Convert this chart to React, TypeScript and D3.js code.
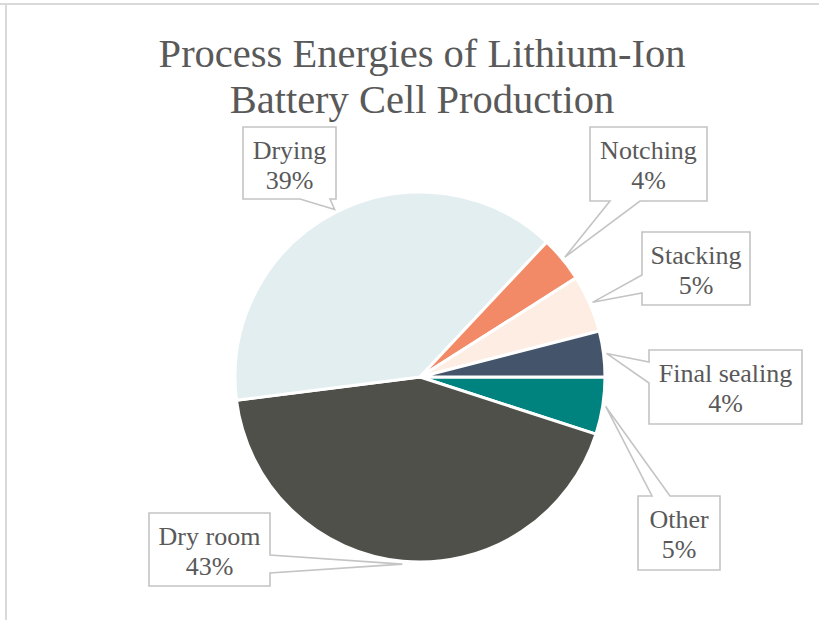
import { useEffect, useRef } from "react";
import * as d3 from "d3";

// 데이터 (시계 3시 방향부터 시계방향 순서)
const categories = ["Other", "Dry room", "Drying", "Notching", "Stacking", "Final sealing"];
const shares = [5, 43, 39, 4, 5, 4];
const sliceColors = ["#00837F", "#50504B", "#E2EEF0", "#F28A68", "#FDEDE2", "#44546A"];
const titleLines = ["Process Energies of Lithium-Ion", "Battery Cell Production"];

// 라벨 박스 위치 (수동 배치), side = 꼬리가 나오는 면, a/b = 꼬리 시작/끝 좌표
const calloutLayout = [
  { x: 638, y: 496, w: 82, h: 74, side: "top", a: 652, b: 670 },
  { x: 149, y: 513, w: 121, h: 73, side: "right", a: 555, b: 573 },
  { x: 243, y: 127, w: 93, h: 72, side: "bottom", a: 300, b: 330 },
  { x: 590, y: 127, w: 117, h: 74, side: "bottom", a: 610, b: 640 },
  { x: 642, y: 232, w: 108, h: 73, side: "left", a: 275, b: 293 },
  { x: 649, y: 350, w: 153, h: 74, side: "left", a: 362, b: 383 },
];

const FONT = "'Liberation Serif', 'DejaVu Serif', serif";

const App = () => {
  const svgRef = useRef<SVGSVGElement>(null);

  useEffect(() => {
    if (!svgRef.current) return;
    const width = 819;
    const height = 620;
    const cx = 420;
    const cy = 377;
    const radius = 185;

    const svg = d3.select(svgRef.current);
    svg.selectAll("*").remove();
    svg.attr("width", width).attr("height", height);

    // 차트 테두리
    svg.append("line").attr("x1", 0).attr("x2", width).attr("y1", 4).attr("y2", 4)
      .attr("stroke", "#d9d9d9").attr("stroke-width", 2);
    svg.append("line").attr("x1", 6).attr("x2", 6).attr("y1", 4).attr("y2", height)
      .attr("stroke", "#d9d9d9").attr("stroke-width", 2);

    // 제목
    svg.append("text")
      .attr("x", 422)
      .attr("y", 67)
      .attr("text-anchor", "middle")
      .style("font-family", FONT)
      .style("font-size", "40.5px")
      .attr("fill", "#595959")
      .selectAll("tspan")
      .data(titleLines)
      .join("tspan")
      .attr("x", 422)
      .attr("dy", (d, i) => (i === 0 ? 0 : 46))
      .text((d) => d);

    const data = categories.map((c, i) => ({ name: c, value: shares[i], color: sliceColors[i], layout: calloutLayout[i] }));

    const pie = d3.pie<any>()
      .value((d) => d.value)
      .sort(null)
      .startAngle(Math.PI / 2)
      .endAngle(Math.PI / 2 + 2 * Math.PI);
    const arcs = pie(data);
    const arc = d3.arc<any>().innerRadius(0).outerRadius(radius);

    const g = svg.append("g").attr("transform", `translate(${cx}, ${cy})`);
    g.selectAll("path")
      .data(arcs)
      .join("path")
      .attr("d", arc)
      .attr("fill", (d) => d.data.color)
      .attr("stroke", "#ffffff")
      .attr("stroke-width", 3)
      .attr("stroke-linejoin", "round");

    // 말풍선 모양 라벨 경로
    const calloutPath = (L: any, tx: number, ty: number) => {
      const { x, y, w, h, side, a, b } = L;
      const p = d3.path();
      p.moveTo(x, y);
      if (side === "top") { p.lineTo(a, y); p.lineTo(tx, ty); p.lineTo(b, y); }
      p.lineTo(x + w, y);
      if (side === "right") { p.lineTo(x + w, a); p.lineTo(tx, ty); p.lineTo(x + w, b); }
      p.lineTo(x + w, y + h);
      if (side === "bottom") { p.lineTo(b, y + h); p.lineTo(tx, ty); p.lineTo(a, y + h); }
      p.lineTo(x, y + h);
      if (side === "left") { p.lineTo(x, b); p.lineTo(tx, ty); p.lineTo(x, a); }
      p.closePath();
      return p.toString();
    };

    const labels = svg.selectAll(".callout").data(arcs).join("g").attr("class", "callout");
    labels.append("path")
      .attr("d", (d) => {
        const mid = (d.startAngle + d.endAngle) / 2;
        const tx = cx + (radius + 3) * Math.sin(mid);
        const ty = cy - (radius + 3) * Math.cos(mid);
        return calloutPath(d.data.layout, tx, ty);
      })
      .attr("fill", "#ffffff")
      .attr("stroke", "#c4c4c4")
      .attr("stroke-width", 1.6)
      .attr("stroke-linejoin", "miter");

    const fmt = d3.format(".0%");
    const txt = labels.append("text")
      .attr("text-anchor", "middle")
      .style("font-family", FONT)
      .style("font-size", "26px")
      .attr("fill", "#595959");
    txt.append("tspan")
      .attr("x", (d) => d.data.layout.x + d.data.layout.w / 2)
      .attr("y", (d) => d.data.layout.y + 32)
      .text((d) => d.data.name);
    txt.append("tspan")
      .attr("x", (d) => d.data.layout.x + d.data.layout.w / 2)
      .attr("y", (d) => d.data.layout.y + 62)
      .text((d) => fmt(d.data.value / d3.sum(shares)));
  }, []);

  return (
    <div style={{ position: "absolute", left: 0, top: 0 }}>
      <svg ref={svgRef} style={{ display: "block" }}></svg>
    </div>
  );
};

export default App;
